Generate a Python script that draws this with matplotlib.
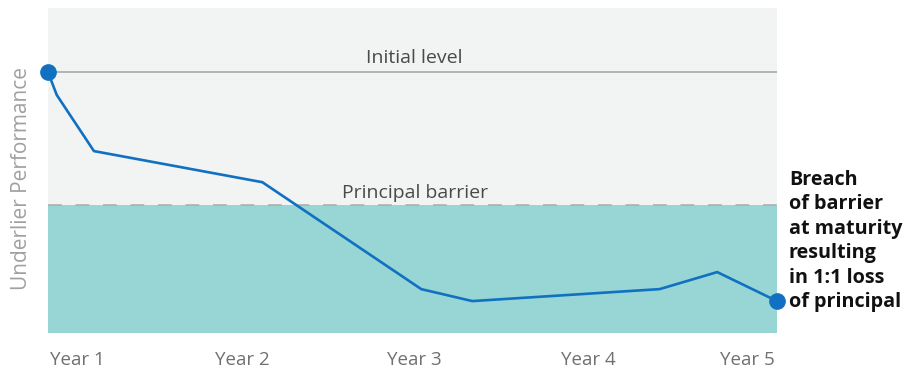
import matplotlib
matplotlib.use("Agg")
import matplotlib.pyplot as plt

# Data (x: % of term, y: performance relative to initial level = 100)
path_x = [0, 1.2, 6.3, 29.4, 51.2, 58.2, 83.9, 91.8, 100]
path_y = [100, 91.4, 70.3, 58.6, 18.4, 13.9, 18.4, 24.8, 13.9]
initial_level = 100
barrier_level = 50
tick_pos = [4.0, 26.6, 50.3, 74.1, 95.9]
tick_labels = ["Year 1", "Year 2", "Year 3", "Year 4", "Year 5"]

plt.rcParams['font.family'] = ['Open Sans', 'DejaVu Sans']

W, H = 917, 370
fig = plt.figure(figsize=(W / 100, H / 100), dpi=100)
ax = fig.add_axes([48 / W, (H - 333) / H, (777 - 48) / W, (333 - 8) / H])

ymin, ymax = 1.9, 124.1
ax.set_xlim(0, 100)
ax.set_ylim(ymin, ymax)

ax.axhspan(barrier_level, ymax, color='#f2f3f3', zorder=0, lw=0)
ax.axhspan(ymin, barrier_level, color='#98d6d6', zorder=0, lw=0)
ax.axhline(initial_level, color='#b3b3b3', lw=1.4, zorder=1)
ax.axhline(barrier_level, color='#aaaaaa', lw=1.1, ls=(0, (9, 9)), zorder=1)

ax.plot(path_x, path_y, color='#1170c1', lw=1.9, zorder=3, solid_joinstyle='miter')
ax.plot([path_x[0], path_x[-1]], [path_y[0], path_y[-1]], 'o', color='#1170c1',
        ms=11, zorder=4, clip_on=False)

ax.text(50.3, initial_level + 1.8, "Initial level", ha='center', va='bottom',
        fontsize=14, color='#4a4a4a')
ax.text(50.3, barrier_level + 1.2, "Principal barrier", ha='center', va='bottom',
        fontsize=14, color='#4a4a4a')

for p, l in zip(tick_pos, tick_labels):
    ax.text(p, -0.055, l, transform=ax.get_xaxis_transform(), ha='center', va='top',
            fontsize=13.5, color='#707070')

ax.set_xticks([])
ax.set_yticks([])
for s in ax.spines.values():
    s.set_visible(False)

fig.text(22 / W, 1 - 178 / H, "Underlier Performance", rotation=90, ha='center',
         va='center', fontsize=15, color='#a0a0a0')

fig.text(789 / W, 1 - 241 / H,
         "Breach\nof barrier\nat maturity\nresulting\nin 1:1 loss\nof principal",
         ha='left', va='center', fontsize=14.2, fontweight='bold', color='#111111',
         linespacing=1.3)

fig.savefig("out.png", dpi=100)
